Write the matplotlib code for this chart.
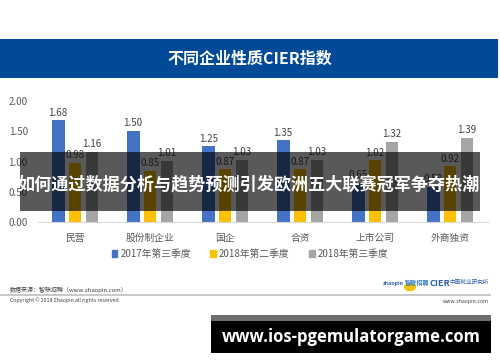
import matplotlib
matplotlib.use("Agg")
import matplotlib.pyplot as plt
from matplotlib.patches import Rectangle, Circle
import numpy as np

plt.rcParams['font.family'] = ['Noto Sans CJK SC', 'DejaVu Sans']

categories = ['民营', '股份制企业', '国企', '合资', '上市公司', '外商独资']
series_names = ['2017年第三季度', '2018年第二季度', '2018年第三季度']
q3_2017 = [1.68, 1.50, 1.25, 1.35, 0.65, 0.58]
q2_2018 = [0.98, 0.85, 0.87, 0.87, 1.02, 0.92]
q3_2018 = [1.16, 1.01, 1.03, 1.03, 1.32, 1.39]
y_ticks = [0.0, 0.5, 1.0, 1.5, 2.0]
colors = ['#4472C4', '#FFC000', '#A5A5A5']

W, H = 500, 362
fig = plt.figure(figsize=(W / 100, H / 100), dpi=100)
fig.patch.set_facecolor('white')

def fx(px):
    return px / W

def fy(py):
    return 1 - py / H

def frect(x0, y0, x1, y1, **kw):
    r = Rectangle((fx(x0), fy(y1)), fx(x1) - fx(x0), fy(y0) - fy(y1),
                  transform=fig.transFigure, **kw)
    fig.patches.append(r)
    return r

# title banner
frect(0, 39, 498, 78, facecolor='#004A97', edgecolor='none', zorder=1)
fig.text(fx(250), fy(58.5), '不同企业性质CIER指数', color='white', fontsize=11.5,
         fontweight='bold', ha='center', va='center', zorder=2)

# chart axes
ax = fig.add_axes([fx(37.5), fy(222), fx(487.5) - fx(37.5), fy(101) - fy(222)])
ax.set_facecolor('none')
x = np.arange(len(categories))
width = 0.17
offsets = [-0.225, 0.0, 0.225]
for vals, off, c in zip([q3_2017, q2_2018, q3_2018], offsets, colors):
    bars = ax.bar(x + off, vals, width, color=c, zorder=2)
    for b, v in zip(bars, vals):
        ax.annotate(f'{v:.2f}', (b.get_x() + b.get_width() / 2, v),
                    xytext=(0, 2), textcoords='offset points',
                    ha='center', va='bottom', fontsize=7, color='#404040')

ax.set_xlim(-0.5, len(categories) - 0.5)
ax.set_ylim(0, 2.0)
ax.set_yticks(y_ticks)
ax.set_yticklabels([f'{t:.2f}' for t in y_ticks], fontsize=7, color='#595959')
ax.set_xticks(x)
ax.set_xticklabels(categories, fontsize=7, color='#595959')
ax.tick_params(axis='both', length=0)
ax.tick_params(axis='y', pad=7)
ax.tick_params(axis='x', pad=8)
for s in ['top', 'right', 'left']:
    ax.spines[s].set_visible(False)
ax.spines['bottom'].set_color('#D9D9D9')

handles = [Rectangle((0, 0), 1, 1, color=c) for c in colors]
fig.legend(handles, series_names, loc='center', bbox_to_anchor=(fx(250), fy(254)),
           ncol=3, frameon=False, fontsize=7, handlelength=0.6, handleheight=0.6,
           handletextpad=0.3, columnspacing=2.0, labelcolor='#595959')

# footer
fig.text(fx(10), fy(290), '数据来源：智联招聘（www.zhaopin.com）', fontsize=4.3,
         color='#404040', ha='left', va='center')
fig.lines.append(plt.Line2D([fx(0), fx(490)], [fy(295), fy(295)],
                            transform=fig.transFigure, color='#BFBFBF', lw=1.2))
fig.text(fx(10), fy(300), 'Copyright © 2018 Zhaopin all rights reserved', fontsize=3.8,
         color='#404040', ha='left', va='center')
fig.text(fx(489), fy(302), 'www.zhaopin.com', fontsize=3.8, color='#404040',
         ha='right', va='center')
# logos
fig.patches.append(Circle((fx(410), fy(287)), 6 / W, transform=fig.transFigure,
                          facecolor='#F5C400', edgecolor='none', zorder=1))
fig.text(fx(404), fy(284), 'zhaopin', fontsize=3.8, color='#2E5FA8', ha='right',
         va='center', fontweight='bold', style='italic', zorder=2)
fig.text(fx(405), fy(283), '智联招聘', fontsize=4.4, color='#2E7BD0', ha='left',
         va='center', fontweight='bold', zorder=2)
fig.text(fx(430), fy(284), 'CIER', fontsize=6.5, color='#2E5FA8', ha='left',
         va='center', fontweight='bold')
fig.text(fx(449), fy(282.5), '中国就业研究所', fontsize=4.1, color='#2E5FA8', ha='left',
         va='center')

# overlay band
frect(20, 152, 480, 211, facecolor='black', alpha=0.65, edgecolor='none', zorder=10)
fig.text(fx(249), fy(184), '如何通过数据分析与趋势预测引发欧洲五大联赛冠军争夺热潮',
         color='white', fontsize=12.3, fontweight='bold', ha='center', va='center',
         zorder=11)

# bottom watermark box
frect(211, 315, 491, 321, facecolor='#6E6E6E', edgecolor='none', zorder=10)
frect(211, 321, 491, 353, facecolor='black', edgecolor='none', zorder=10)
fig.text(fx(351), fy(337), 'www.ios-pgemulatorgame.com', color='white', fontsize=12,
         fontweight='bold', ha='center', va='center', zorder=11,
         family=['Open Sans', 'DejaVu Sans'])

fig.savefig('out.png', dpi=100, facecolor='white')
